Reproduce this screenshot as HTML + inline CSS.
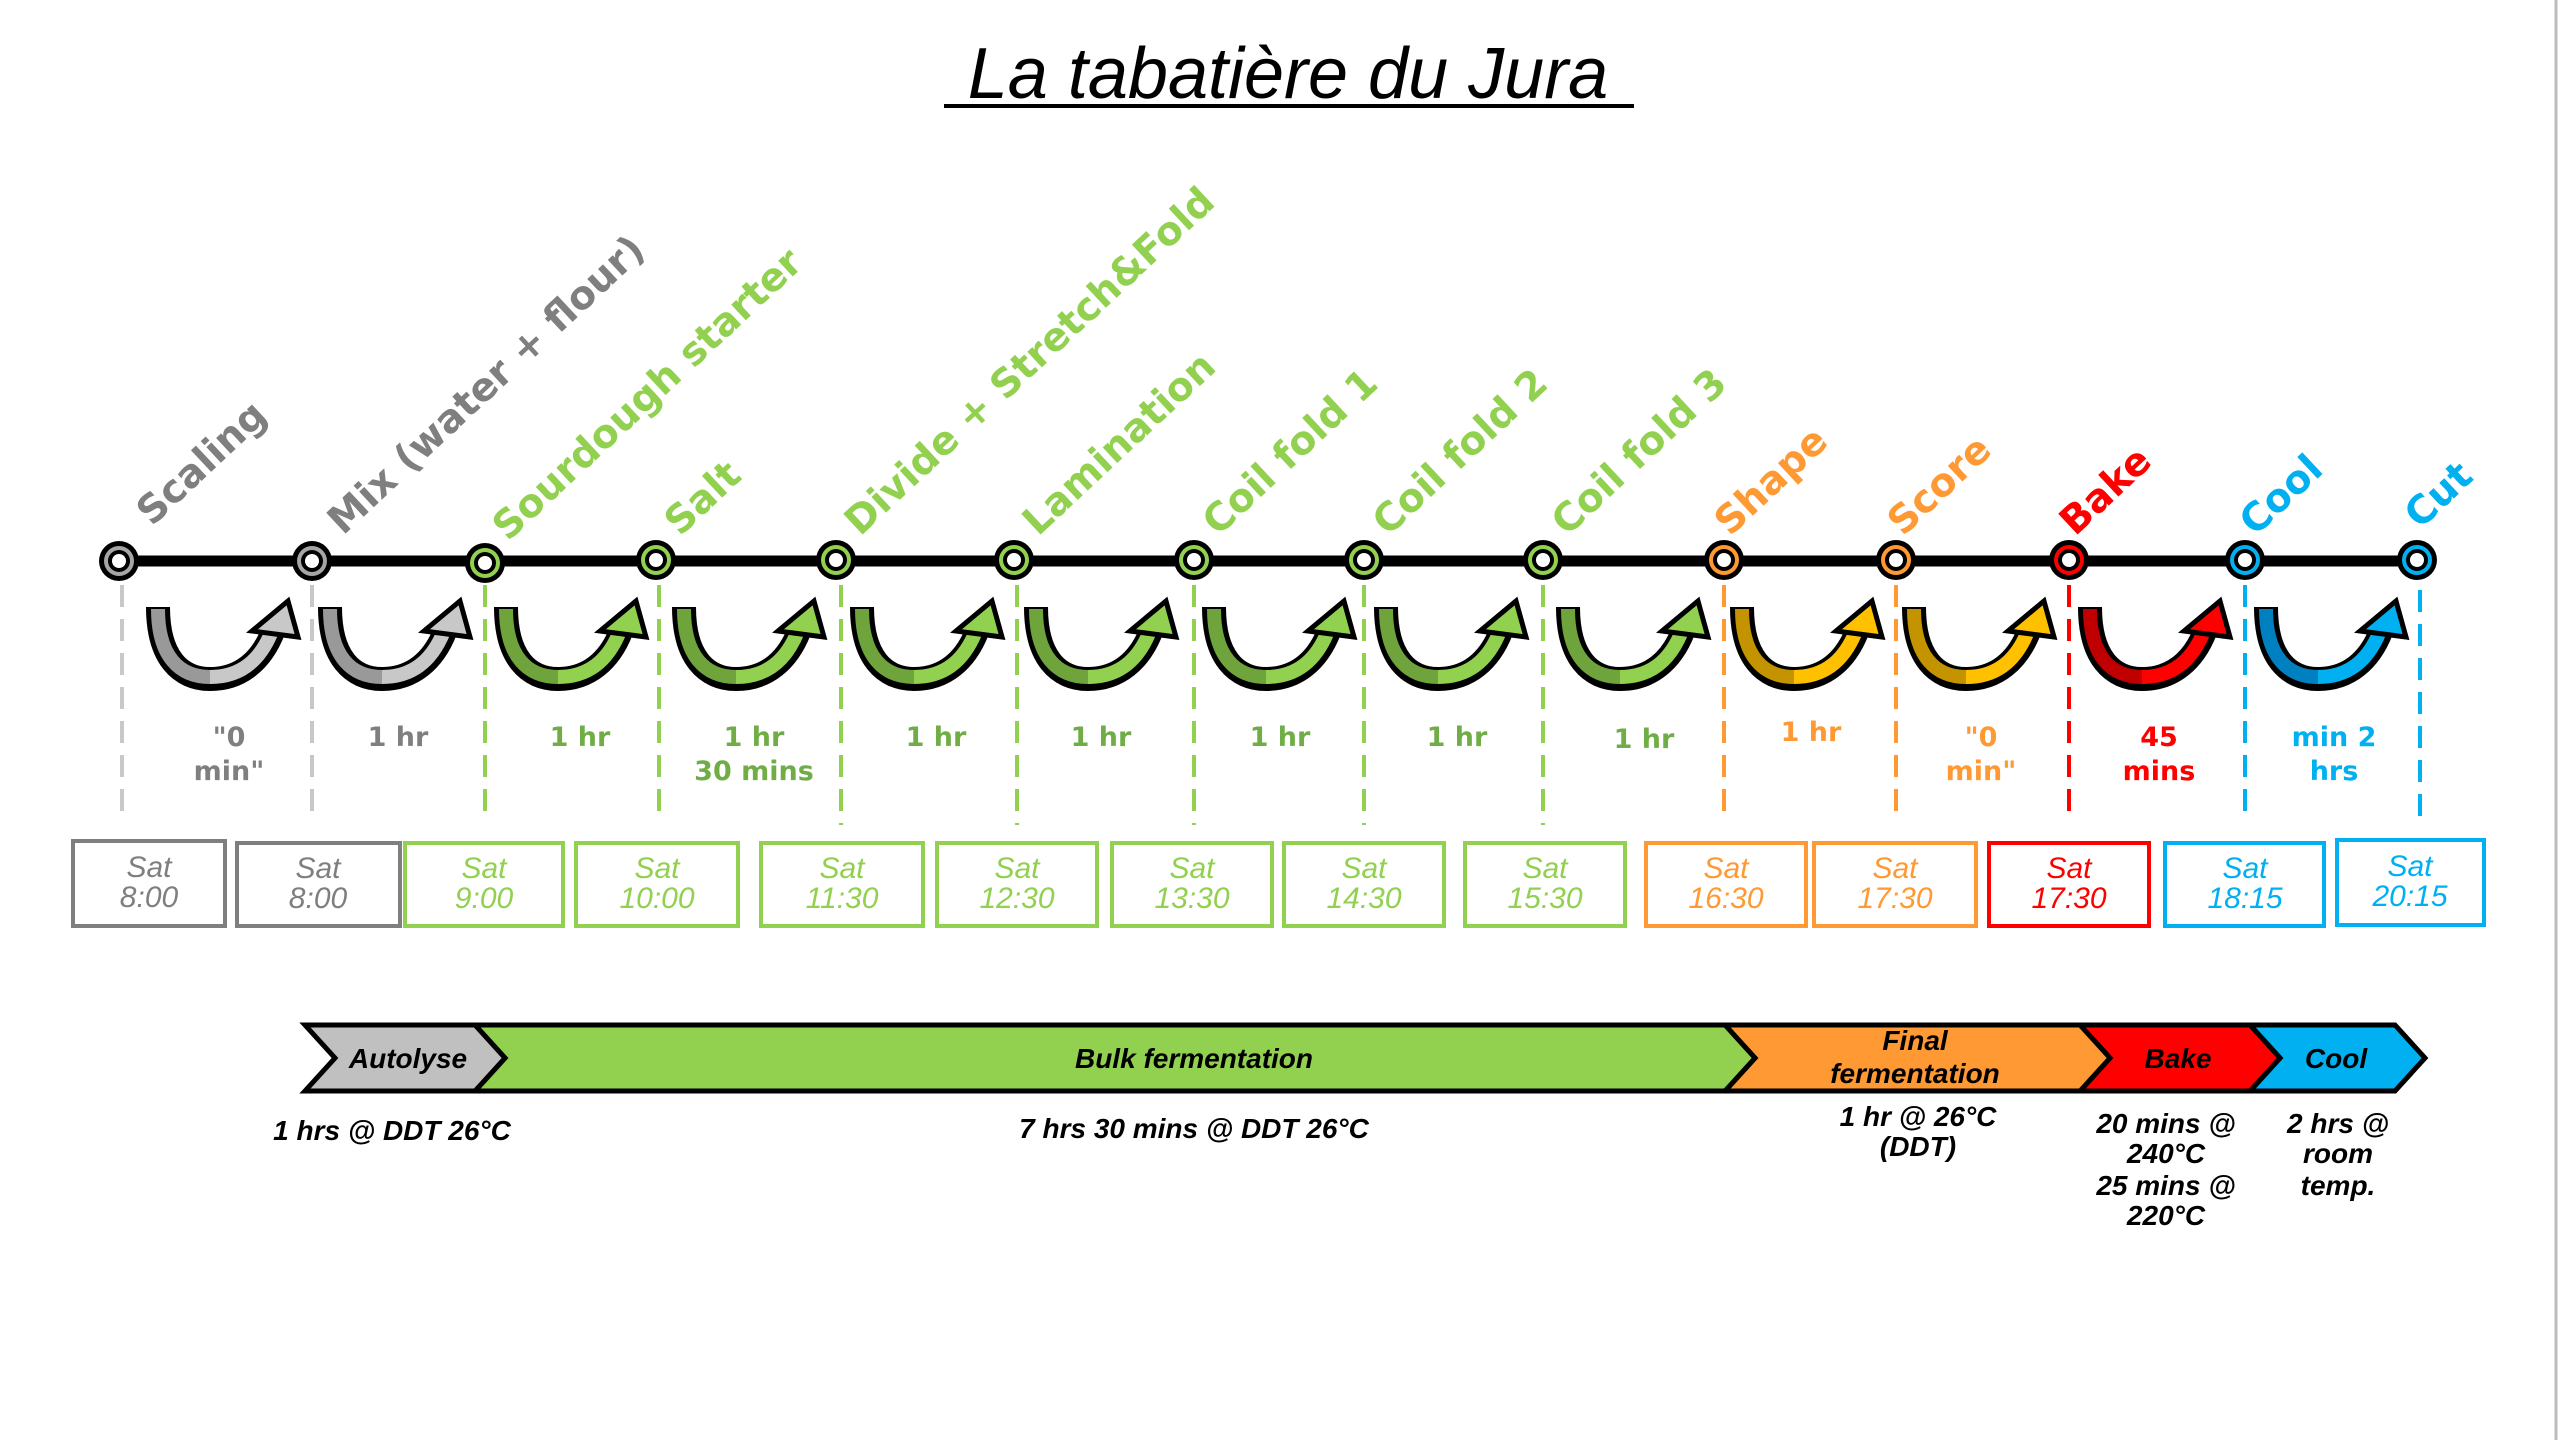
<!DOCTYPE html>
<html><head><meta charset="utf-8"><style>
html,body{margin:0;padding:0;background:#fff;}
svg{display:block;}
.lb{font-family:"DejaVu Sans","Liberation Sans",sans-serif;font-weight:bold;font-size:39px;}
.du{font-family:"DejaVu Sans","Liberation Sans",sans-serif;font-weight:bold;font-size:27px;text-anchor:middle;}
.bx{font-family:"Liberation Sans",sans-serif;font-style:italic;font-size:30px;text-anchor:middle;}
.bt{font-family:"Liberation Sans",sans-serif;font-style:italic;font-weight:bold;font-size:28px;text-anchor:middle;fill:#000;}
</style></head><body>
<svg width="2560" height="1440" viewBox="0 0 2560 1440" xmlns="http://www.w3.org/2000/svg">
<rect width="2560" height="1440" fill="#fff"/>
<line x1="2556" y1="0" x2="2556" y2="1440" stroke="#bbb" stroke-width="3"/>
<text x="1288" y="98" font-family="Liberation Sans,sans-serif" font-style="italic" font-size="72" text-anchor="middle" fill="#000">La tabatière du Jura</text>
<rect x="944" y="104" width="690" height="4" fill="#000"/>

<!-- dashed lines -->
<g stroke-width="4" stroke-dasharray="22,12" fill="none">
<line x1="122" y1="585" x2="122" y2="815" stroke="#c8c8c8"/>
<line x1="312" y1="585" x2="312" y2="815" stroke="#c8c8c8"/>
<line x1="485" y1="585" x2="485" y2="815" stroke="#92d050"/>
<line x1="659" y1="585" x2="659" y2="815" stroke="#92d050"/>
<line x1="841" y1="585" x2="841" y2="825" stroke="#92d050"/>
<line x1="1017" y1="585" x2="1017" y2="825" stroke="#92d050"/>
<line x1="1194" y1="585" x2="1194" y2="825" stroke="#92d050"/>
<line x1="1364" y1="585" x2="1364" y2="825" stroke="#92d050"/>
<line x1="1543" y1="585" x2="1543" y2="825" stroke="#92d050"/>
<line x1="1724" y1="585" x2="1724" y2="815" stroke="#ff9933"/>
<line x1="1896" y1="585" x2="1896" y2="820" stroke="#ff9933"/>
<line x1="2069" y1="585" x2="2069" y2="815" stroke="#ff0000"/>
<line x1="2245" y1="585" x2="2245" y2="815" stroke="#00b0f0"/>
<line x1="2420" y1="590" x2="2420" y2="825" stroke="#00b0f0"/>
</g>

<!-- timeline -->
<line x1="119" y1="561" x2="2417" y2="561" stroke="#000" stroke-width="11"/>

<!-- nodes -->
<g>
<g transform="translate(119,561)"><circle r="20" fill="#000"/><circle r="15" fill="#a6a6a6"/><circle r="11" fill="#000"/><circle r="7" fill="#fff"/></g>
<g transform="translate(312,561)"><circle r="20" fill="#000"/><circle r="15" fill="#a6a6a6"/><circle r="11" fill="#000"/><circle r="7" fill="#fff"/></g>
<g transform="translate(485,563)"><circle r="20" fill="#000"/><circle r="15" fill="#92d050"/><circle r="11" fill="#000"/><circle r="7" fill="#fff"/></g>
<g transform="translate(656,560)"><circle r="20" fill="#000"/><circle r="15" fill="#92d050"/><circle r="11" fill="#000"/><circle r="7" fill="#fff"/></g>
<g transform="translate(836,560)"><circle r="20" fill="#000"/><circle r="15" fill="#92d050"/><circle r="11" fill="#000"/><circle r="7" fill="#fff"/></g>
<g transform="translate(1014,560)"><circle r="20" fill="#000"/><circle r="15" fill="#92d050"/><circle r="11" fill="#000"/><circle r="7" fill="#fff"/></g>
<g transform="translate(1194,560)"><circle r="20" fill="#000"/><circle r="15" fill="#92d050"/><circle r="11" fill="#000"/><circle r="7" fill="#fff"/></g>
<g transform="translate(1364,560)"><circle r="20" fill="#000"/><circle r="15" fill="#92d050"/><circle r="11" fill="#000"/><circle r="7" fill="#fff"/></g>
<g transform="translate(1543,560)"><circle r="20" fill="#000"/><circle r="15" fill="#92d050"/><circle r="11" fill="#000"/><circle r="7" fill="#fff"/></g>
<g transform="translate(1724,560)"><circle r="20" fill="#000"/><circle r="15" fill="#ff9933"/><circle r="11" fill="#000"/><circle r="7" fill="#fff"/></g>
<g transform="translate(1896,560)"><circle r="20" fill="#000"/><circle r="15" fill="#ff9933"/><circle r="11" fill="#000"/><circle r="7" fill="#fff"/></g>
<g transform="translate(2069,560)"><circle r="20" fill="#000"/><circle r="15" fill="#ff0000"/><circle r="11" fill="#000"/><circle r="7" fill="#fff"/></g>
<g transform="translate(2245,560)"><circle r="20" fill="#000"/><circle r="15" fill="#00b0f0"/><circle r="11" fill="#000"/><circle r="7" fill="#fff"/></g>
<g transform="translate(2417,560)"><circle r="20" fill="#000"/><circle r="15" fill="#00b0f0"/><circle r="11" fill="#000"/><circle r="7" fill="#fff"/></g>
</g>

<!-- labels -->
<g class="lb">
<text transform="translate(152,527) rotate(-43)" fill="#7f7f7f">Scaling</text>
<text transform="translate(343,536) rotate(-43)" fill="#7f7f7f">Mix (water + flour)</text>
<text transform="translate(508,542) rotate(-43)" fill="#92d050">Sourdough starter</text>
<text transform="translate(680,537) rotate(-43)" fill="#92d050">Salt</text>
<text transform="translate(860,537) rotate(-43)" fill="#92d050">Divide + Stretch&amp;Fold</text>
<text transform="translate(1038,537) rotate(-43)" fill="#92d050">Lamination</text>
<text transform="translate(1218,537) rotate(-43)" fill="#92d050">Coil fold 1</text>
<text transform="translate(1388,537) rotate(-43)" fill="#92d050">Coil fold 2</text>
<text transform="translate(1567,537) rotate(-43)" fill="#92d050">Coil fold 3</text>
<text transform="translate(1730,537) rotate(-43)" fill="#ff9933">Shape</text>
<text transform="translate(1903,537) rotate(-43)" fill="#ff9933">Score</text>
<text transform="translate(2075,537) rotate(-43)" fill="#ff0000">Bake</text>
<text transform="translate(2255,537) rotate(-43)" fill="#00b0f0">Cool</text>
<text transform="translate(2420,530) rotate(-43)" fill="#00b0f0">Cut</text>
</g>

<!-- arcs -->
<g stroke-linecap="butt" fill="none">
<g transform="translate(140,607)"><path d="M18,0 C18,50 40,72 70,72 C100,72 122,54 134,22" stroke="#000" stroke-width="24"/><path d="M18,2 C18,50 40,70 70,70" stroke="#999" stroke-width="14"/><path d="M70,70 C100,70 120,54 132,24" stroke="#c8c8c8" stroke-width="14"/><polygon points="112,24 158,30 148,-6" fill="#c8c8c8" stroke="#000" stroke-width="5"/></g>
<g transform="translate(312,607)"><path d="M18,0 C18,50 40,72 70,72 C100,72 122,54 134,22" stroke="#000" stroke-width="24"/><path d="M18,2 C18,50 40,70 70,70" stroke="#999" stroke-width="14"/><path d="M70,70 C100,70 120,54 132,24" stroke="#c8c8c8" stroke-width="14"/><polygon points="112,24 158,30 148,-6" fill="#c8c8c8" stroke="#000" stroke-width="5"/></g>
<g transform="translate(488,607)"><path d="M18,0 C18,50 40,72 70,72 C100,72 122,54 134,22" stroke="#000" stroke-width="24"/><path d="M18,2 C18,50 40,70 70,70" stroke="#6fa33c" stroke-width="14"/><path d="M70,70 C100,70 120,54 132,24" stroke="#92d050" stroke-width="14"/><polygon points="112,24 158,30 148,-6" fill="#92d050" stroke="#000" stroke-width="5"/></g>
<g transform="translate(666,607)"><path d="M18,0 C18,50 40,72 70,72 C100,72 122,54 134,22" stroke="#000" stroke-width="24"/><path d="M18,2 C18,50 40,70 70,70" stroke="#6fa33c" stroke-width="14"/><path d="M70,70 C100,70 120,54 132,24" stroke="#92d050" stroke-width="14"/><polygon points="112,24 158,30 148,-6" fill="#92d050" stroke="#000" stroke-width="5"/></g>
<g transform="translate(844,607)"><path d="M18,0 C18,50 40,72 70,72 C100,72 122,54 134,22" stroke="#000" stroke-width="24"/><path d="M18,2 C18,50 40,70 70,70" stroke="#6fa33c" stroke-width="14"/><path d="M70,70 C100,70 120,54 132,24" stroke="#92d050" stroke-width="14"/><polygon points="112,24 158,30 148,-6" fill="#92d050" stroke="#000" stroke-width="5"/></g>
<g transform="translate(1018,607)"><path d="M18,0 C18,50 40,72 70,72 C100,72 122,54 134,22" stroke="#000" stroke-width="24"/><path d="M18,2 C18,50 40,70 70,70" stroke="#6fa33c" stroke-width="14"/><path d="M70,70 C100,70 120,54 132,24" stroke="#92d050" stroke-width="14"/><polygon points="112,24 158,30 148,-6" fill="#92d050" stroke="#000" stroke-width="5"/></g>
<g transform="translate(1196,607)"><path d="M18,0 C18,50 40,72 70,72 C100,72 122,54 134,22" stroke="#000" stroke-width="24"/><path d="M18,2 C18,50 40,70 70,70" stroke="#6fa33c" stroke-width="14"/><path d="M70,70 C100,70 120,54 132,24" stroke="#92d050" stroke-width="14"/><polygon points="112,24 158,30 148,-6" fill="#92d050" stroke="#000" stroke-width="5"/></g>
<g transform="translate(1368,607)"><path d="M18,0 C18,50 40,72 70,72 C100,72 122,54 134,22" stroke="#000" stroke-width="24"/><path d="M18,2 C18,50 40,70 70,70" stroke="#6fa33c" stroke-width="14"/><path d="M70,70 C100,70 120,54 132,24" stroke="#92d050" stroke-width="14"/><polygon points="112,24 158,30 148,-6" fill="#92d050" stroke="#000" stroke-width="5"/></g>
<g transform="translate(1550,607)"><path d="M18,0 C18,50 40,72 70,72 C100,72 122,54 134,22" stroke="#000" stroke-width="24"/><path d="M18,2 C18,50 40,70 70,70" stroke="#6fa33c" stroke-width="14"/><path d="M70,70 C100,70 120,54 132,24" stroke="#92d050" stroke-width="14"/><polygon points="112,24 158,30 148,-6" fill="#92d050" stroke="#000" stroke-width="5"/></g>
<g transform="translate(1724,607)"><path d="M18,0 C18,50 40,72 70,72 C100,72 122,54 134,22" stroke="#000" stroke-width="24"/><path d="M18,2 C18,50 40,70 70,70" stroke="#c49400" stroke-width="14"/><path d="M70,70 C100,70 120,54 132,24" stroke="#ffc000" stroke-width="14"/><polygon points="112,24 158,30 148,-6" fill="#ffc000" stroke="#000" stroke-width="5"/></g>
<g transform="translate(1896,607)"><path d="M18,0 C18,50 40,72 70,72 C100,72 122,54 134,22" stroke="#000" stroke-width="24"/><path d="M18,2 C18,50 40,70 70,70" stroke="#c49400" stroke-width="14"/><path d="M70,70 C100,70 120,54 132,24" stroke="#ffc000" stroke-width="14"/><polygon points="112,24 158,30 148,-6" fill="#ffc000" stroke="#000" stroke-width="5"/></g>
<g transform="translate(2072,607)"><path d="M18,0 C18,50 40,72 70,72 C100,72 122,54 134,22" stroke="#000" stroke-width="24"/><path d="M18,2 C18,50 40,70 70,70" stroke="#c00000" stroke-width="14"/><path d="M70,70 C100,70 120,54 132,24" stroke="#ff0000" stroke-width="14"/><polygon points="112,24 158,30 148,-6" fill="#ff0000" stroke="#000" stroke-width="5"/></g>
<g transform="translate(2248,607)"><path d="M18,0 C18,50 40,72 70,72 C100,72 122,54 134,22" stroke="#000" stroke-width="24"/><path d="M18,2 C18,50 40,70 70,70" stroke="#0080c0" stroke-width="14"/><path d="M70,70 C100,70 120,54 132,24" stroke="#00b0f0" stroke-width="14"/><polygon points="112,24 158,30 148,-6" fill="#00b0f0" stroke="#000" stroke-width="5"/></g>
</g>

<!-- durations -->
<g class="du">
<text x="229" y="746" fill="#7f7f7f">"0</text><text x="229" y="780" fill="#7f7f7f">min"</text>
<text x="398" y="746" fill="#7f7f7f">1 hr</text>
<text x="580" y="746" fill="#70ad47">1 hr</text>
<text x="754" y="746" fill="#70ad47">1 hr</text><text x="754" y="780" fill="#70ad47">30 mins</text>
<text x="936" y="746" fill="#70ad47">1 hr</text>
<text x="1101" y="746" fill="#70ad47">1 hr</text>
<text x="1280" y="746" fill="#70ad47">1 hr</text>
<text x="1457" y="746" fill="#70ad47">1 hr</text>
<text x="1644" y="748" fill="#70ad47">1 hr</text>
<text x="1811" y="741" fill="#ff9933">1 hr</text>
<text x="1981" y="746" fill="#ff9933">"0</text><text x="1981" y="780" fill="#ff9933">min"</text>
<text x="2159" y="746" fill="#ff0000">45</text><text x="2159" y="780" fill="#ff0000">mins</text>
<text x="2334" y="746" fill="#00b0f0">min 2</text><text x="2334" y="780" fill="#00b0f0">hrs</text>
</g>

<!-- time boxes -->
<g fill="none" stroke-width="4">
<rect x="73" y="841" width="152" height="85" stroke="#7f7f7f"/>
<rect x="237" y="843" width="163" height="83" stroke="#7f7f7f"/>
<rect x="405" y="843" width="158" height="83" stroke="#92d050"/>
<rect x="576" y="843" width="162" height="83" stroke="#92d050"/>
<rect x="761" y="843" width="162" height="83" stroke="#92d050"/>
<rect x="937" y="843" width="160" height="83" stroke="#92d050"/>
<rect x="1112" y="843" width="160" height="83" stroke="#92d050"/>
<rect x="1284" y="843" width="160" height="83" stroke="#92d050"/>
<rect x="1465" y="843" width="160" height="83" stroke="#92d050"/>
<rect x="1646" y="843" width="160" height="83" stroke="#ff9933"/>
<rect x="1814" y="843" width="162" height="83" stroke="#ff9933"/>
<rect x="1989" y="843" width="160" height="83" stroke="#ff0000"/>
<rect x="2165" y="843" width="159" height="83" stroke="#00b0f0"/>
<rect x="2337" y="840" width="147" height="85" stroke="#00b0f0"/>
</g>
<g class="bx">
<text x="149" y="877" fill="#7f7f7f">Sat</text><text x="149" y="907" fill="#7f7f7f">8:00</text>
<text x="318" y="878" fill="#7f7f7f">Sat</text><text x="318" y="908" fill="#7f7f7f">8:00</text>
<text x="484" y="878" fill="#92d050">Sat</text><text x="484" y="908" fill="#92d050">9:00</text>
<text x="657" y="878" fill="#92d050">Sat</text><text x="657" y="908" fill="#92d050">10:00</text>
<text x="842" y="878" fill="#92d050">Sat</text><text x="842" y="908" fill="#92d050">11:30</text>
<text x="1017" y="878" fill="#92d050">Sat</text><text x="1017" y="908" fill="#92d050">12:30</text>
<text x="1192" y="878" fill="#92d050">Sat</text><text x="1192" y="908" fill="#92d050">13:30</text>
<text x="1364" y="878" fill="#92d050">Sat</text><text x="1364" y="908" fill="#92d050">14:30</text>
<text x="1545" y="878" fill="#92d050">Sat</text><text x="1545" y="908" fill="#92d050">15:30</text>
<text x="1726" y="878" fill="#ff9933">Sat</text><text x="1726" y="908" fill="#ff9933">16:30</text>
<text x="1895" y="878" fill="#ff9933">Sat</text><text x="1895" y="908" fill="#ff9933">17:30</text>
<text x="2069" y="878" fill="#ff0000">Sat</text><text x="2069" y="908" fill="#ff0000">17:30</text>
<text x="2245" y="878" fill="#00b0f0">Sat</text><text x="2245" y="908" fill="#00b0f0">18:15</text>
<text x="2410" y="876" fill="#00b0f0">Sat</text><text x="2410" y="906" fill="#00b0f0">20:15</text>
</g>

<!-- phase bar -->
<g stroke="#000" stroke-width="5" stroke-linejoin="miter">
<polygon points="2250,1025 2395,1025 2425,1058 2395,1091 2250,1091 2280,1058" fill="#00b0f0"/>
<polygon points="2080,1025 2250,1025 2280,1058 2250,1091 2080,1091 2110,1058" fill="#ff0000"/>
<polygon points="1725,1025 2080,1025 2110,1058 2080,1091 1725,1091 1755,1058" fill="#ff9933"/>
<polygon points="475,1025 1725,1025 1755,1058 1725,1091 475,1091 505,1058" fill="#92d050"/>
<polygon points="305,1025 475,1025 505,1058 475,1091 305,1091 335,1058" fill="#c0c0c0"/>
</g>
<g class="bt">
<text x="408" y="1068">Autolyse</text>
<text x="1194" y="1068">Bulk fermentation</text>
<text x="1915" y="1050">Final</text><text x="1915" y="1083">fermentation</text>
<text x="2178" y="1068">Bake</text>
<text x="2336" y="1068">Cool</text>
</g>
<g class="bt" font-size="27">
<text x="392" y="1140">1 hrs @ DDT 26°C</text>
<text x="1194" y="1138">7 hrs 30 mins @ DDT 26°C</text>
<text x="1918" y="1126">1 hr @ 26°C</text><text x="1918" y="1156">(DDT)</text>
<text x="2166" y="1133">20 mins @</text><text x="2166" y="1163">240°C</text>
<text x="2166" y="1195">25 mins @</text><text x="2166" y="1225">220°C</text>
<text x="2338" y="1133">2 hrs @</text><text x="2338" y="1163">room</text><text x="2338" y="1195">temp.</text>
</g>
</svg>
</body></html>
